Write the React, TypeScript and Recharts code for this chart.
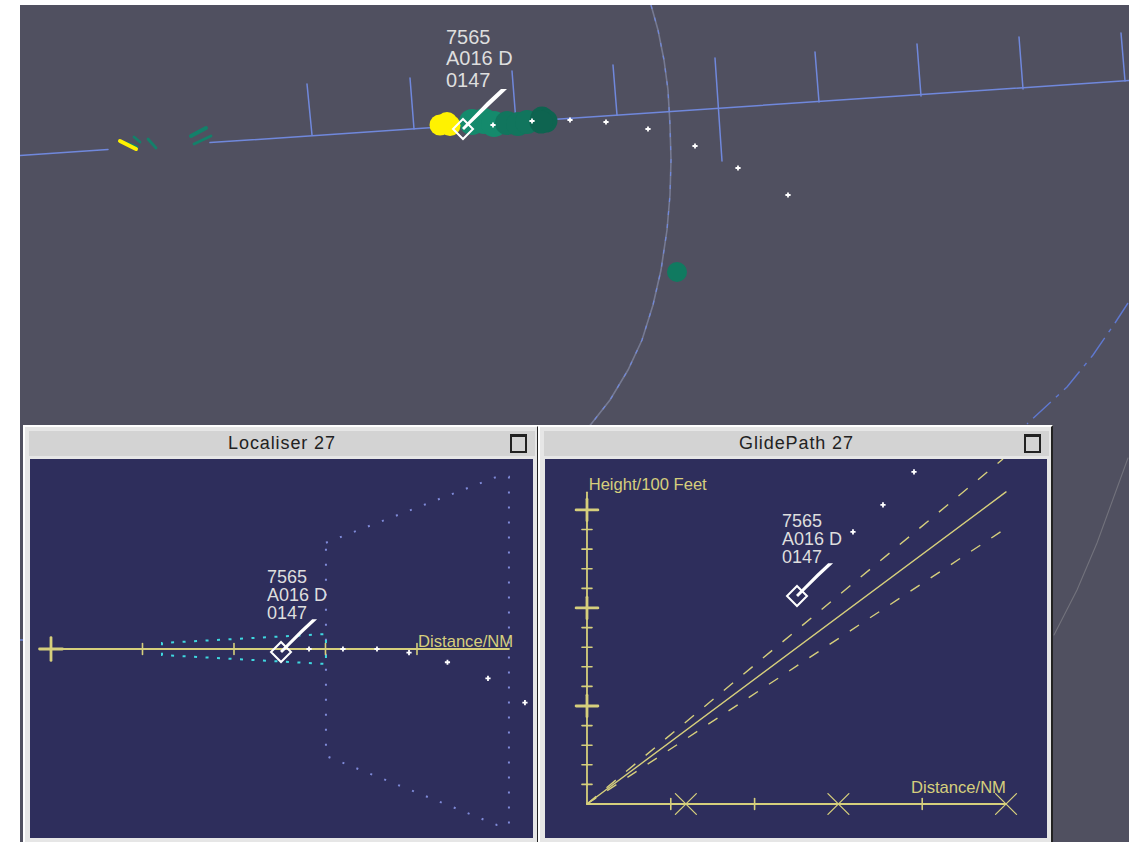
import { ScatterChart, Scatter, XAxis, YAxis } from 'recharts'

// radar view, display units
const centrelineWest = [{ x: 20, y: 155.5 }, { x: 108, y: 149.5 }]
const centrelineEast = [{ x: 210, y: 142.6 }, { x: 1129, y: 80.5 }]
const neighbourStub = [{ x: 20, y: 640 }, { x: 24, y: 640 }]
const rangeTicks = [
  [{ x: 307, y: 84 }, { x: 312, y: 135 }],
  [{ x: 410, y: 78 }, { x: 414, y: 129 }],
  [{ x: 512, y: 71 }, { x: 516, y: 122 }],
  [{ x: 613, y: 65 }, { x: 617, y: 115 }],
  [{ x: 715, y: 58 }, { x: 722, y: 161 }],
  [{ x: 815, y: 52 }, { x: 819, y: 102 }],
  [{ x: 917, y: 44 }, { x: 921, y: 96 }],
  [{ x: 1019, y: 37 }, { x: 1023, y: 89 }],
  [{ x: 1121, y: 33 }, { x: 1125, y: 81 }],
]
const boundaryArc = [
  { x: 651, y: 5 }, { x: 658, y: 30 }, { x: 664, y: 60 }, { x: 668, y: 90 }, { x: 670, y: 125 },
  { x: 671, y: 160 }, { x: 670, y: 195 }, { x: 667, y: 230 }, { x: 661, y: 270 }, { x: 653, y: 305 },
  { x: 642, y: 340 }, { x: 628, y: 370 }, { x: 610, y: 400 }, { x: 588, y: 428 },
]
const outerArc = [{ x: 1128, y: 303 }, { x: 1115, y: 323 }, { x: 1093, y: 355 }, { x: 1067, y: 387 }, { x: 1027, y: 424 }]
const greyArc = [{ x: 1128, y: 458 }, { x: 1097, y: 543 }, { x: 1077, y: 590 }, { x: 1054, y: 635 }]
const radarTrail = [
  { x: 493, y: 125 }, { x: 532, y: 121 }, { x: 570, y: 120 }, { x: 606, y: 122 },
  { x: 648, y: 129 }, { x: 695, y: 146 }, { x: 738, y: 168 }, { x: 788, y: 195 },
]
const radarPlane = [{ x: 463, y: 129 }]
const yellowEcho = [{ x: 440, y: 125 }, { x: 447, y: 122.5 }, { x: 450, y: 125.5 }]
const greenEcho = [{ x: 472, y: 122 }, { x: 484, y: 121 }, { x: 494, y: 124 }]
const midEcho = [{ x: 507, y: 123 }, { x: 518, y: 124 }, { x: 527, y: 122 }]
const darkEcho = [{ x: 542, y: 118 }, { x: 546, y: 121 }, { x: 541, y: 122 }]
const loneEcho = [{ x: 677, y: 272 }]
const streaksGreen = [
  [{ x: 127, y: 143 }, { x: 137, y: 147 }],
  [{ x: 134, y: 137 }, { x: 140, y: 142 }],
  [{ x: 148, y: 139 }, { x: 156, y: 148 }],
  [{ x: 191, y: 136 }, { x: 206, y: 128 }],
  [{ x: 194, y: 144 }, { x: 211, y: 136 }],
]
const streakYellow = [{ x: 120, y: 141 }, { x: 136, y: 149 }]

// localiser, NM along the approach and NM either side of it
const locAxis = [{ x: 0, y: 0 }, { x: 5.005, y: 0 }]
const locTicks = [1, 2, 3, 4]
const locConeUpper = [{ x: 1.213, y: 0.04 }, { x: 1.213, y: 0.066 }, { x: 3.005, y: 0.164 }, { x: 3.005, y: 0 }]
const locConeLower = [{ x: 1.213, y: -0.04 }, { x: 1.213, y: -0.066 }, { x: 3.005, y: -0.164 }, { x: 3.005, y: 0 }]
const locSector = [
  { x: 3.005, y: 1.162 }, { x: 4.874, y: 1.883 }, { x: 5.005, y: 1.883 }, { x: 5.005, y: -1.923 },
  { x: 4.874, y: -1.923 }, { x: 3.005, y: -1.169 }, { x: 3.005, y: 1.162 },
]
const locTrail = [
  { x: 2.82, y: 0 }, { x: 3.191, y: 0 }, { x: 3.563, y: 0 }, { x: 3.913, y: -0.04 },
  { x: 4.333, y: -0.145 }, { x: 4.776, y: -0.32 }, { x: 5.18, y: -0.587 },
]
const locPlane = [{ x: 2.514, y: -0.033 }]
const locLabel = [{ x: 4.012, y: 0.02 }]

// glide path, NM and hundreds of feet
const gpCentre = [{ x: 0, y: 0 }, { x: 5, y: 15.92 }]
const gpUpper = [{ x: 0, y: 0 }, { x: 4.964, y: 17.6 }]
const gpLower = [{ x: 0, y: 0 }, { x: 4.952, y: 13.93 }]
const gpDistanceAxis = [{ x: 0, y: 0 }, { x: 5, y: 0 }]
const gpHeightAxis = [{ x: 0, y: 0 }, { x: 0, y: 15.9 }]
const gpDistanceTicks = [1, 2, 4]
const gpDistanceCrosses = [1.18, 3, 5]
const gpHeightTicks = [1, 2, 3, 4, 6, 7, 8, 9, 11, 12, 13, 14]
const gpHeightMajors = [5, 10, 15]
const gpTrail = [{ x: 3.174, y: 13.88 }, { x: 3.532, y: 15.26 }, { x: 3.902, y: 16.94 }]
const gpPlane = [{ x: 2.506, y: 10.61 }]
const gpHeightLabel = [{ x: 0.02, y: 16.0 }]
const gpDistanceLabel = [{ x: 3.866, y: 0.56 }]

const planeLines = ['7565', 'A016 D', '0147']

const YELLOW = '#d6cf7c'
const FONT = '"Liberation Sans", Arial, sans-serif'
const noDot = () => <g />

function seg(key: string, data: { x: number; y: number }[], stroke: string, strokeWidth = 1.3, dash?: string) {
  return (
    <Scatter
      key={key}
      data={data}
      line={{ stroke, strokeWidth, strokeDasharray: dash, strokeLinecap: dash ? 'butt' : 'round' }}
      shape={noDot}
      isAnimationActive={false}
    />
  )
}

function dots(key: string, data: { x: number; y: number }[], r: number, fill: string) {
  return (
    <Scatter
      key={key}
      data={data}
      shape={(p: any) => <circle cx={p.cx} cy={p.cy} r={r} fill={fill} />}
      isAnimationActive={false}
    />
  )
}

// the small white plus of a past radar return
function plots(key: string, data: { x: number; y: number }[]) {
  return (
    <Scatter
      key={key}
      data={data}
      shape={(p: any) => (
        <path d={`M${p.cx - 2.6} ${p.cy}H${p.cx + 2.6}M${p.cx} ${p.cy - 2.6}V${p.cy + 2.6}`} stroke="#fff" strokeWidth={1.8} />
      )}
      isAnimationActive={false}
    />
  )
}

function plane(key: string, data: { x: number; y: number }[], k: number, fontSize: number, lineGap: number, textDx: number, textDy: number) {
  return (
    <Scatter
      key={key}
      data={data}
      isAnimationActive={false}
      shape={(p: any) => {
        const { cx, cy } = p
        return (
          <g>
            <path
              d={`M${cx} ${cy - 10}L${cx + 10} ${cy}L${cx} ${cy + 10}L${cx - 10} ${cy}Z`}
              fill="none"
              stroke="#fff"
              strokeWidth={2}
            />
            <path
              d={`M${cx - 1} ${cy - 1}L${cx + 24 * k} ${cy - 27 * k}L${cx + 38 * k} ${cy - 40 * k}L${cx + 44 * k} ${cy - 40 * k}L${cx + 27 * k} ${cy - 24 * k}L${cx + 1} ${cy + 1}Z`}
              fill="#fff"
            />
            {planeLines.map((t, i) => (
              <text key={t} x={cx + textDx} y={cy + textDy + i * lineGap} fontSize={fontSize} fontFamily={FONT} fill="#dedede">
                {t}
              </text>
            ))}
          </g>
        )
      }}
    />
  )
}

function caption(key: string, data: { x: number; y: number }[], text: string) {
  return (
    <Scatter
      key={key}
      data={data}
      isAnimationActive={false}
      shape={(p: any) => (
        <text x={p.cx} y={p.cy} fontSize={16.6} fontFamily={FONT} fill={YELLOW}>
          {text}
        </text>
      )}
    />
  )
}

function Chart({ w, h, xd, yd, rev, children }: any) {
  return (
    <ScatterChart width={w} height={h} margin={{ top: 0, right: 0, bottom: 0, left: 0 }}>
      <XAxis dataKey="x" type="number" domain={xd} hide allowDataOverflow />
      <YAxis dataKey="y" type="number" domain={yd} hide allowDataOverflow reversed={rev} />
      {children}
    </ScatterChart>
  )
}

function Panel({ left, width, plotWidth, title, children }: any) {
  return (
    <div style={{ position: 'absolute', left, top: 425, width, height: 417, background: '#e6e6e6', boxSizing: 'border-box', borderTop: '2px solid #fff', borderLeft: '2px solid #fff', borderRight: '2px solid #222' }}>
      <div style={{ position: 'absolute', left: 4, right: 2, top: 4, height: 25, background: '#d3d3d3', textAlign: 'center', font: `18px/25px ${FONT}`, color: '#222', letterSpacing: 0.9 }}>
        {title}
        <div style={{ position: 'absolute', right: 8, top: 3, width: 13, height: 14, border: '2px solid #222', borderTopWidth: 3, background: '#d3d3d3' }} />
      </div>
      <div style={{ position: 'absolute', left: 5, top: 32, width: plotWidth, height: 379, background: '#2e2e5c' }}>{children}</div>
    </div>
  )
}

export default function App() {
  return (
    <div style={{ position: 'absolute', left: 0, top: 0, width: 1135, height: 842, background: '#fff', overflow: 'hidden' }}>
      <div style={{ position: 'absolute', left: 20, top: 5, width: 1109, height: 837, background: '#505060' }}>
        <Chart w={1109} h={837} xd={[20, 1129]} yd={[5, 842]} rev>
          {seg('arc', boundaryArc, '#767a92', 1.6)}
          {seg('arcb', boundaryArc, '#7088dc', 1.2, '4 9')}
          {seg('outer', outerArc, '#5f78d0', 1.4, '24 7 4 7')}
          {seg('grey', greyArc, '#72727c', 1.1)}
          {seg('stub', neighbourStub, '#7088dc', 1.5)}
          {seg('cw', centrelineWest, '#7088dc', 1.5)}
          {seg('ce', centrelineEast, '#7088dc', 1.5)}
          {rangeTicks.map((t, i) => seg(`t${i}`, t, '#7088dc', 1.5))}
          {streaksGreen.map((t, i) => seg(`s${i}`, t, '#14806a', i === 3 ? 4 : 2.8))}
          {seg('sy', streakYellow, '#fff200', 4)}
          {dots('echo-g', greenEcho, 13, '#148a6c')}
          {dots('echo-m', midEcho, 12, '#11755d')}
          {dots('echo-d', darkEcho, 11.5, '#0e6450')}
          {dots('echo-y', yellowEcho, 10.5, '#fff200')}
          {dots('echo-l', loneEcho, 10, '#107a60')}
          {plots('trail', radarTrail)}
          {plane('plane', radarPlane, 1, 20, 21.5, -17, -85.5)}
        </Chart>
      </div>

      <Panel left={23} width={516} plotWidth={503} title="Localiser 27">
        <Chart w={503} h={379} xd={[-0.2295, 5.268]} yd={[-2.066, 2.077]}>
          {seg('sector', locSector, '#7f8ad8', 2, '2 13')}
          {seg('up', locConeUpper, '#3fd8e0', 2, '3 8.5')}
          {seg('low', locConeLower, '#3fd8e0', 2, '3 8.5')}
          {seg('axis', locAxis, YELLOW, 1.8)}
          {locTicks.map((v) => seg(`lt${v}`, [{ x: v, y: -0.06 }, { x: v, y: 0.06 }], YELLOW, 1.6))}
          {seg('crossH', [{ x: -0.125, y: 0 }, { x: 0.125, y: 0 }], YELLOW, 2.8)}
          {seg('crossV', [{ x: 0, y: -0.125 }, { x: 0, y: 0.125 }], YELLOW, 2.8)}
          {plots('ltrail', locTrail)}
          {plane('lplane', locPlane, 0.82, 18, 18, -14, -69.5)}
          {caption('lcap', locLabel, 'Distance/NM')}
        </Chart>
      </Panel>

      <Panel left={538} width={515} plotWidth={502} title="GlidePath 27">
        <Chart w={502} h={379} xd={[-0.501, 5.489]} yd={[-1.735, 17.6]}>
          {seg('gu', gpUpper, YELLOW, 1.4, '12 13.4')}
          {seg('gl', gpLower, YELLOW, 1.4, '11 13.2')}
          {seg('gc', gpCentre, YELLOW, 1.4)}
          {seg('gd', gpDistanceAxis, YELLOW, 1.8)}
          {seg('gh', gpHeightAxis, YELLOW, 1.8)}
          {gpDistanceTicks.map((v) => seg(`gdt${v}`, [{ x: v, y: -0.28 }, { x: v, y: 0.28 }], YELLOW, 1.6))}
          {gpDistanceCrosses.flatMap((v) => [
            seg(`gx${v}a`, [{ x: v - 0.125, y: -0.53 }, { x: v + 0.125, y: 0.53 }], YELLOW, 1.3),
            seg(`gx${v}b`, [{ x: v - 0.125, y: 0.53 }, { x: v + 0.125, y: -0.53 }], YELLOW, 1.3),
          ])}
          {gpHeightTicks.map((v) => seg(`ght${v}`, [{ x: -0.06, y: v }, { x: 0.06, y: v }], YELLOW, 1.6))}
          {gpHeightMajors.flatMap((v) => [
            seg(`gmh${v}`, [{ x: -0.13, y: v }, { x: 0.13, y: v }], YELLOW, 2.8),
            seg(`gmv${v}`, [{ x: 0, y: v - 0.55 }, { x: 0, y: v + 0.55 }], YELLOW, 2.8),
          ])}
          {plots('gtrail', gpTrail)}
          {plane('gplane', gpPlane, 0.82, 18, 18, -15, -69.5)}
          {caption('gcapH', gpHeightLabel, 'Height/100 Feet')}
          {caption('gcapD', gpDistanceLabel, 'Distance/NM')}
        </Chart>
      </Panel>
    </div>
  )
}
